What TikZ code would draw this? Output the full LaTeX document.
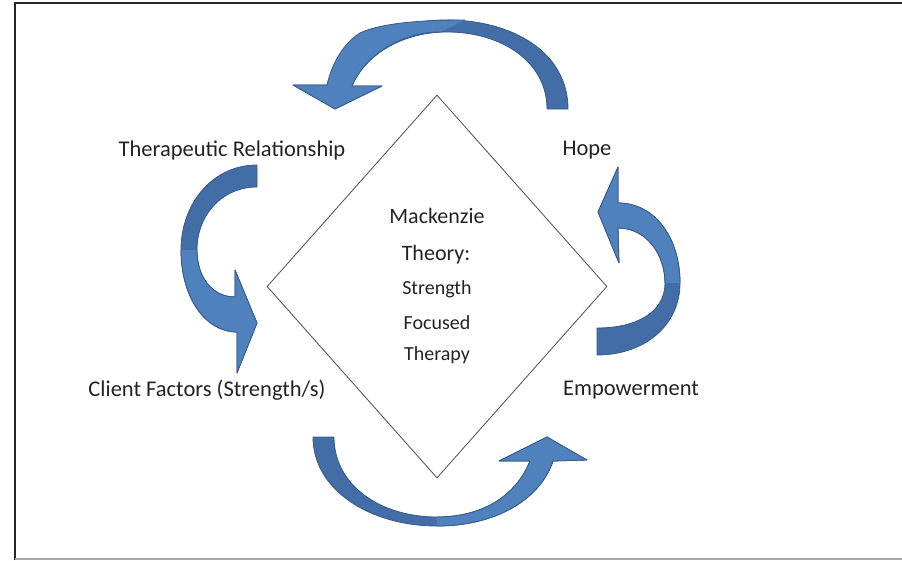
\documentclass[tikz,border=0pt]{standalone}
\usepackage{fontspec}
\setmainfont{Carlito}
\usetikzlibrary{positioning,shapes.geometric}

\definecolor{arrowlight}{RGB}{79,129,189}
\definecolor{arrowdark}{RGB}{66,109,166}
\definecolor{arrowedge}{RGB}{55,90,138}
\definecolor{textgray}{RGB}{35,35,35}

\tikzset{
    back/.style={fill=arrowdark, draw=arrowedge, line width=0.8pt, line join=round},
    front/.style={fill=arrowlight, draw=arrowedge, line width=0.8pt, line join=round},
    lbl/.style={text=textgray, inner sep=0pt, font=\fontsize{22.5}{27}\selectfont},
    big/.style={lbl, font=\fontsize{22}{26}\selectfont},
    small/.style={lbl, font=\fontsize{20}{24}\selectfont}
}

\begin{document}
\begin{tikzpicture}[x=1pt, y=-1pt]
        \useasboundingbox (0, 0) rectangle (902, 560);

        % frame
        \draw[line width=2pt, black!85] (15, 560) -- (15, 3) -- (902, 3);
        \draw[line width=1.5pt, black!35] (15, 559) -- (902, 559);

        % diamond
        \node[diamond, draw=black!70, line width=0.8pt, inner sep=0pt,
              minimum width=340pt, minimum height=383pt] (theory) at (437, 286.5) {};

        % top arrow: Hope -> Therapeutic Relationship
        % (front bands are left open so the seam is not stroked)
        \draw[back] (568, 109) .. controls (568, 52) and (512, 20) .. (447, 20)
            .. controls (387, 20) and (340, 48) .. (327, 85)
            -- (293, 85) -- (335, 109) -- (382, 86) -- (352, 86)
            .. controls (365, 55) and (402, 32) .. (447, 32)
            .. controls (502, 32) and (547, 62) .. (547, 109) -- cycle;
        \draw[front] (440, 32) .. controls (402, 32) and (365, 55) .. (352, 86)
            -- (382, 86) -- (335, 109) -- (293, 85) -- (327, 85)
            .. controls (332, 62) and (345, 42) .. (360, 33)
            .. controls (387, 20) and (447, 20) .. (465, 20);

        % left arrow: Therapeutic Relationship -> Client Factors
        \draw[back] (257, 165) .. controls (213, 165) and (181, 203) .. (181, 250)
            .. controls (181, 297) and (205, 332) .. (237, 332)
            -- (237, 373) -- (257, 323) -- (235, 270) -- (235, 297)
            .. controls (212, 297) and (197, 277) .. (197, 250)
            .. controls (197, 215) and (222, 187) .. (257, 187) -- cycle;
        \draw[front] (197, 250) .. controls (197, 277) and (212, 297) .. (235, 297)
            -- (235, 270) -- (257, 323) -- (237, 373) -- (237, 332)
            .. controls (205, 332) and (181, 297) .. (181, 250);

        % bottom arrow: Client Factors -> Empowerment
        \draw[back] (313, 437) .. controls (313, 490) and (370, 526) .. (437, 526)
            .. controls (495, 526) and (540, 500) .. (553, 461)
            -- (587, 460) -- (547, 437) -- (499, 461) -- (530, 461)
            .. controls (515, 498) and (480, 517) .. (437, 517)
            .. controls (380, 517) and (334, 485) .. (334, 437) -- cycle;
        \draw[front] (437, 517) .. controls (480, 517) and (515, 498) .. (530, 461)
            -- (499, 461) -- (547, 437) -- (587, 460) -- (553, 461)
            .. controls (540, 500) and (495, 526) .. (437, 526);

        % right arrow: Empowerment -> Hope
        \draw[back] (597, 355) .. controls (645, 355) and (680, 325) .. (680, 283)
            .. controls (680, 238) and (655, 203) .. (618, 203)
            -- (618, 167) -- (598, 212) -- (619, 263) -- (618, 228)
            .. controls (647, 228) and (665, 255) .. (665, 283)
            .. controls (665, 312) and (637, 328) .. (597, 328) -- cycle;
        \draw[front] (665, 283) .. controls (665, 255) and (647, 228) .. (618, 228)
            -- (619, 263) -- (598, 212) -- (618, 167) -- (618, 203)
            .. controls (655, 203) and (680, 238) .. (680, 283);

        % labels
        \node[lbl] (relation) at (232, 150) {Therapeutic Relationship};
        \node[lbl] (hope) at (587, 150) {Hope};
        \node[lbl] (client) at (207, 390) {Client Factors (Strength/s)};
        \node[lbl] (empower) at (631, 390) {Empowerment};

        % centre text
        \node[big] (mack) at (437, 216) {Mackenzie};
        \node[big] (theo) at (436, 255) {Theory:};
        \node[small] (strength) at (437, 289) {Strength};
        \node[small] (focused) at (437, 323) {Focused};
        \node[small] (therapy) at (437, 355) {Therapy};
\end{tikzpicture}
\end{document}
